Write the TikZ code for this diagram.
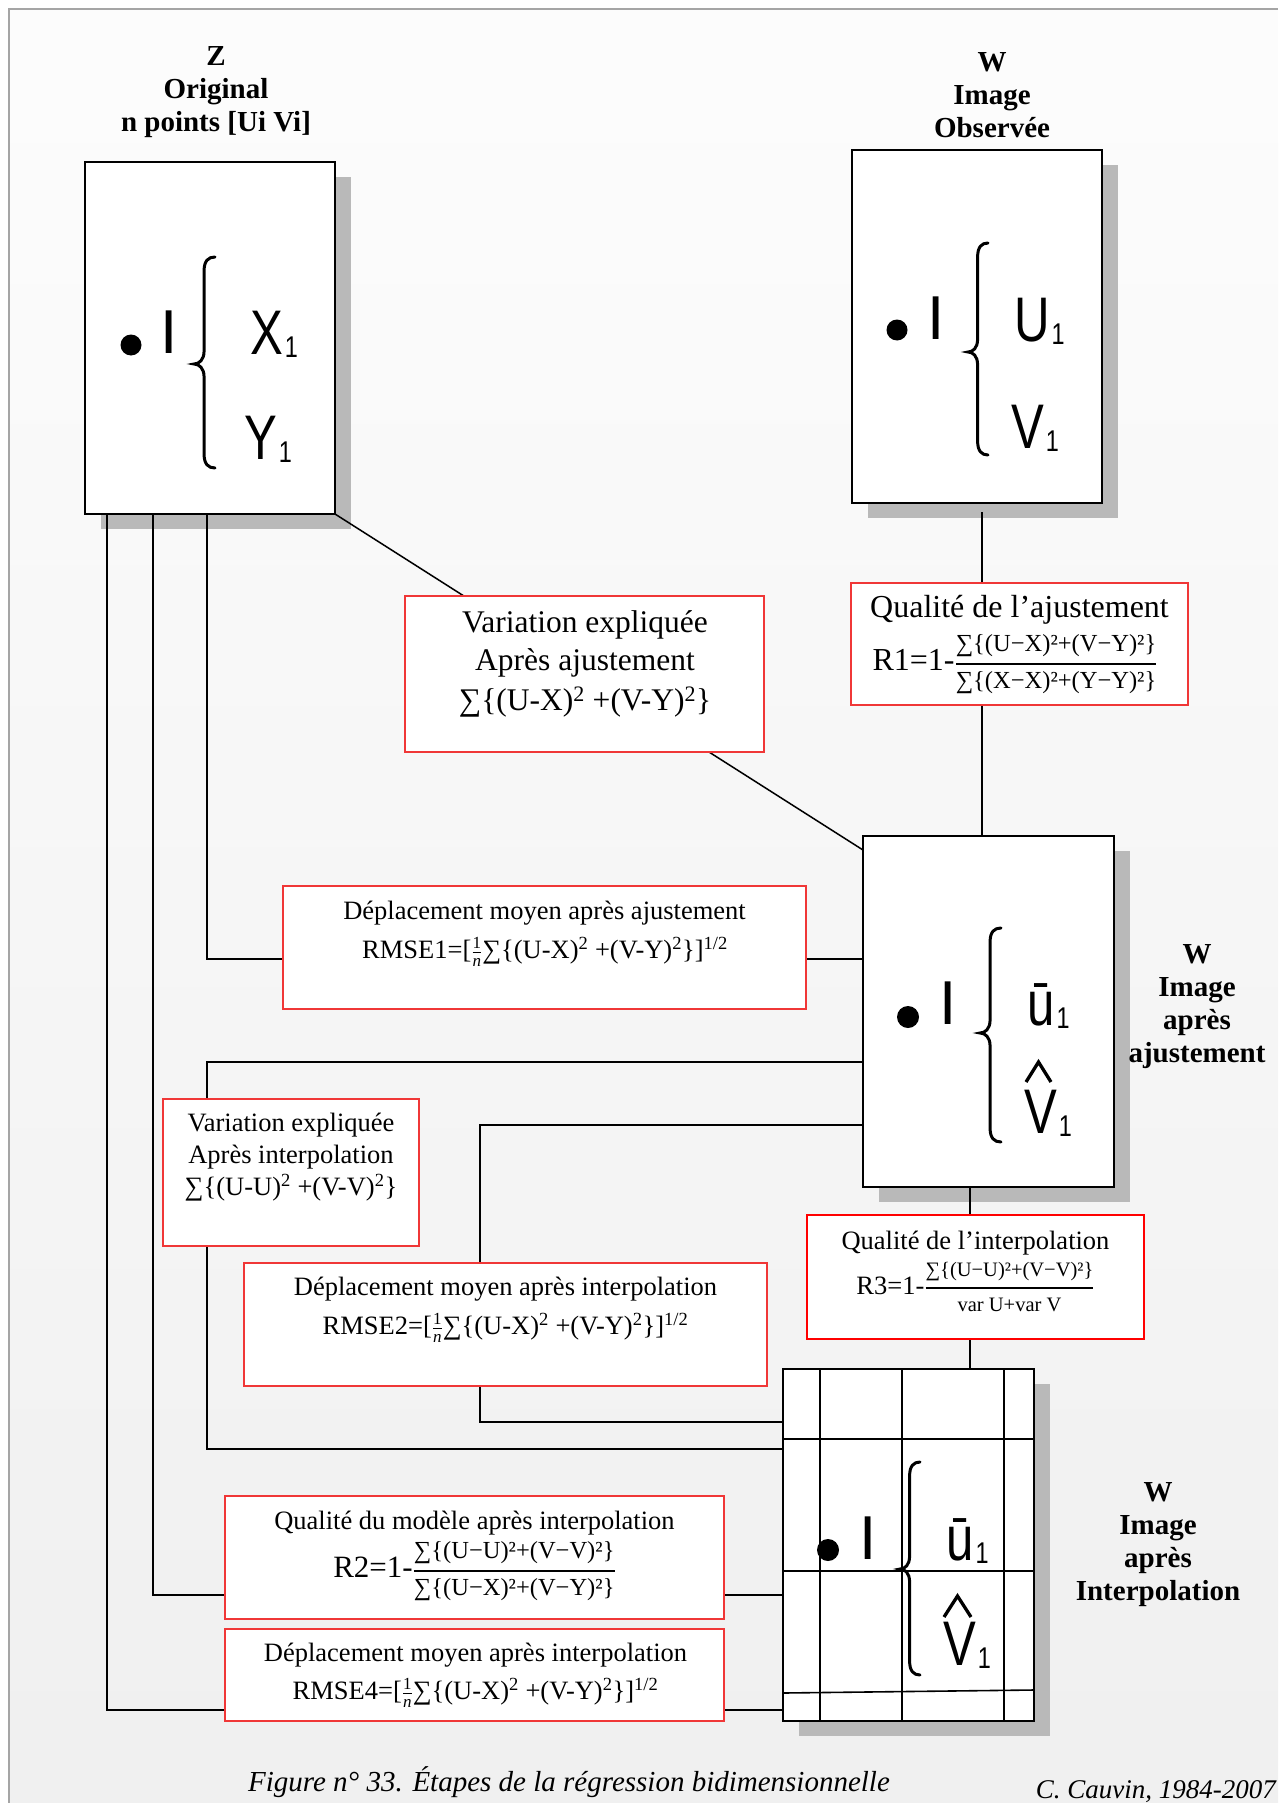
\documentclass[tikz,border=0pt]{standalone}
\usepackage{amsmath}
\usepackage{graphicx}
\usepackage{fontspec}
\setmainfont{Liberation Serif}
\newfontfamily\arialf[FakeStretch=0.78]{Liberation Sans}
\newfontfamily\arialn{Liberation Sans}
\pgfdeclarelayer{bgl}
\pgfdeclarelayer{shad}
\pgfdeclarelayer{conn}
\pgfsetlayers{bgl,shad,conn,main}
\definecolor{boxred}{RGB}{240,55,55}
\definecolor{shadowc}{RGB}{185,185,185}
\definecolor{framec}{RGB}{165,165,165}
\newcommand\fsz[1]{\fontsize{#1}{#1}\selectfont}
\newcommand\pw[1]{\textsuperscript{#1}}
\newcommand\onen{$\genfrac{}{}{1.2pt}{1}{\hbox{\fsz{17}1}}{\hbox{\fsz{17}\itshape n}}$}
\newcommand\fracx[3]{$\genfrac{}{}{2pt}{0}{\hbox{\fsz{#1}#2}}{\hbox{\fsz{#1}#3}}$}
\newcommand\subone{\hspace{2pt}\raisebox{-3pt}{\fsz{30}1}}
\newcommand\drawbrace[5]{%
  \pgfmathsetmacro\bxm{#1+0.48*(#2-#1)}%
  \draw[brc] (#2,#3) .. controls (\bxm+4,#3) and (\bxm,#3+4) .. (\bxm,#3+14)
    -- (\bxm,#4-13) .. controls (\bxm,#4-4) and (#1+5,#4) .. (#1,#4)
    .. controls (#1+5,#4) and (\bxm,#4+4) .. (\bxm,#4+13)
    -- (\bxm,#5-14) .. controls (\bxm,#5-4) and (\bxm+4,#5) .. (#2,#5);}
\begin{document}
\begin{tikzpicture}[x=1pt,y=-1pt,
  bbox/.style={draw=black, line width=1.7pt, fill=white, minimum width=250pt, minimum height=352pt, inner sep=0pt, outer sep=0pt, anchor=north west},
  rbox/.style={draw=boxred, line width=1.3pt, fill=white, inner sep=0pt, outer sep=0pt, anchor=north west},
  conn/.style={line width=1.5pt, black},
  brc/.style={line width=3pt, line cap=round},
  hatline/.style={line width=3.3pt, line join=miter},
  ttl/.style={align=center, font=\bfseries\fontsize{29}{33}\selectfont, inner sep=0pt},
  lett/.style={font=\arialf\fsz{63}, inner sep=0pt, anchor=base west},
  letI/.style={font=\arialn\fsz{62}, inner sep=0pt, anchor=base},
  tA/.style={font=\fsz{31.5}, inner sep=0pt},
  tB/.style={font=\fsz{32}, inner sep=0pt},
  tC/.style={font=\fsz{26.5}, inner sep=0pt}]
\useasboundingbox (0,0) rectangle (1278,1803);
\begin{pgfonlayer}{bgl}
  \fill[white] (0,0) rectangle (1278,1803);
  \shade[top color=black!1, bottom color=black!6] (9,9) rectangle (1278,1803);
  \draw[framec, line width=1.5pt] (9,1803) -- (9,9) -- (1278,9);
\end{pgfonlayer}

% titles
\node[ttl] (tZ) at (216,92) {Z\\Original\\n points [Ui Vi]};
\node[ttl] (tWo) at (992,95) {W\\Image\\Observée};
\node[ttl] (tWa) at (1197,1007) {W\\Image\\après\\ajustement};
\node[ttl] (tWi) at (1158,1545) {W\\Image\\après\\Interpolation};

% black boxes
\node[bbox] (Z) at (85,162) {};
\node[bbox, minimum height=353pt] (Wobs) at (852,150) {};
\node[bbox, minimum width=251pt, minimum height=351pt] (Waj) at (863,836) {};
\node[bbox, minimum width=251pt] (Wint) at (783,1369) {};

% shadows
\begin{pgfonlayer}{shad}
  \foreach \n in {Z,Wobs,Waj,Wint}
    \fill[shadowc] ([xshift=16pt,yshift=-15pt]\n.south west) rectangle ([xshift=16pt,yshift=-15pt]\n.north east);
\end{pgfonlayer}

% box Z content
\fill (131,345) circle[radius=10.5pt];
\node[letI] (zI) at (169,353) {I};
\drawbrace{194}{215}{257}{364}{468}
\node[lett] (zX) at (250,354) {X\subone};
\node[lett] (zY) at (244,459) {Y\subone};

% box W observee content
\fill (897,330) circle[radius=10.5pt];
\node[letI] (oI) at (936,339) {I};
\drawbrace{968}{988}{243}{352}{455}
\node[lett] (oU) at (1014,341) {U\subone};
\node[lett] (oV) at (1011,448) {V\subone};

% box W ajustement content
\fill (908,1017) circle[radius=11pt];
\node[letI] (aI) at (948.5,1024) {I};
\drawbrace{980}{1001}{928}{1033}{1142}
\node[lett] (aU) at (1027,1025) {ū\subone};
\node[lett] (aV) at (1024,1133) {V\subone};
\draw[hatline] (1026,1082) -- (1038.5,1062) -- (1051,1082);

% box W interpolation: grid and content
\draw[line width=1.6pt] (820,1369) -- (820,1721) (902,1369) -- (902,1721) (1004,1369) -- (1004,1721)
  (783,1439) -- (1034,1439) (783,1571) -- (1034,1571) (783,1693) -- (1034,1690);
\fill (828,1550) circle[radius=11pt];
\node[letI] (iI) at (868,1559) {I};
\drawbrace{900}{920}{1462}{1569}{1675}
\node[lett] (iU) at (946,1560) {ū\subone};
\node[lett] (iV) at (943,1665) {V\subone};
\draw[hatline] (944,1617) -- (957.5,1596) -- (971,1617);

% red boxes
\node[rbox, minimum width=359pt, minimum height=156pt] (ve1) at (405,596) {};
\node[rbox, minimum width=337pt, minimum height=122pt] (r1) at (851,583) {};
\node[rbox, minimum width=523pt, minimum height=123pt] (rm1) at (283,886) {};
\node[rbox, minimum width=256pt, minimum height=147pt] (ve2) at (163,1099) {};
\node[rbox, minimum width=523pt, minimum height=123pt] (rm2) at (244,1263) {};
\node[rbox, minimum width=337pt, minimum height=124pt, line width=2pt, draw=red] (r3) at (807,1215) {};
\node[rbox, minimum width=499pt, minimum height=123pt] (r2) at (225,1496) {};
\node[rbox, minimum width=499pt, minimum height=92pt] (rm4) at (225,1629) {};

% red box texts
\node[tA] (ve1a) at (585,625) {Variation expliquée};
\node[tA] (ve1b) at (585,663) {Après ajustement};
\node[tA] (ve1c) at (585,702) {∑\{(U-X)\pw{2} +(V-Y)\pw{2}\}};
\node[tB] (r1a) at (1019.5,610) {Qualité de l’ajustement};
\node[tB] (r1b) at (1015,664) {R1=1-\fracx{24.5}{∑\{(U−X)²+(V−Y)²\}}{∑\{(X−X)²+(Y−Y)²\}}};
\node[tC] (rm1a) at (544.5,913) {Déplacement moyen après ajustement};
\node[tC] (rm1b) at (545,952) {RMSE1=[\onen∑\{(U-X)\pw{2} +(V-Y)\pw{2}\}]\pw{1/2}};
\node[tC] (ve2a) at (291,1125) {Variation expliquée};
\node[tC] (ve2b) at (291,1157) {Après interpolation};
\node[tC] (ve2c) at (291,1188) {∑\{(U-U)\pw{2} +(V-V)\pw{2}\}};
\node[tC] (rm2a) at (505.5,1289) {Déplacement moyen après interpolation};
\node[tC] (rm2b) at (505.5,1328) {RMSE2=[\onen∑\{(U-X)\pw{2} +(V-Y)\pw{2}\}]\pw{1/2}};
\node[tC] (r3a) at (975.5,1243) {Qualité de l’interpolation};
\node[tC] (r3b) at (975.5,1287) {R3=1-\fracx{20.5}{∑\{(U−U)²+(V−V)²\}}{var U+var V}};
\node[tC] (r2a) at (474.5,1523) {Qualité du modèle après interpolation};
\node[font=\fsz{31}, inner sep=0pt] (r2b) at (474.5,1571) {R2=1-\fracx{24.5}{∑\{(U−U)²+(V−V)²\}}{∑\{(U−X)²+(V−Y)²\}}};
\node[tC] (rm4a) at (475.5,1655) {Déplacement moyen après interpolation};
\node[tC] (rm4b) at (475.5,1693) {RMSE4=[\onen∑\{(U-X)\pw{2} +(V-Y)\pw{2}\}]\pw{1/2}};

% caption
\node[font=\itshape\fsz{29}, inner sep=0pt] (cap) at (569,1782) {Figure n° 33. Étapes de la régression bidimensionnelle};
\node[font=\itshape\fsz{27}, inner sep=0pt, anchor=east] (auth) at (1276,1792) {C. Cauvin, 1984-2007};

% connectors
\coordinate (k1) at (207,1449);
\coordinate (k2) at (480,1422);
\coordinate (wo1) at ([xshift=5pt,yshift=-9pt]Wobs.south);
\coordinate (wa1) at ([xshift=-18.5pt]Waj.south);
\begin{pgfonlayer}{conn}
  \draw[conn] (Z.south east) -- ([yshift=-14pt]Waj.north west);
  \draw[conn] (wo1) -- (wo1 |- Waj.north);
  \draw[conn] ([xshift=122pt]Z.south west) |- ([yshift=-123pt]Waj.north west);
  \draw[conn] ([yshift=-226pt]Waj.north west) -| (k1) -- (k1 -| Wint.west);
  \draw[conn] ([yshift=-289pt]Waj.north west) -| (k2) -- (k2 -| Wint.west);
  \draw[conn] ([xshift=68pt]Z.south west) |- ([yshift=-226pt]Wint.north west);
  \draw[conn] ([xshift=22pt]Z.south west) |- ([yshift=-341pt]Wint.north west);
  \draw[conn] (wa1) -- (wa1 |- Wint.north);
\end{pgfonlayer}
\end{tikzpicture}
\end{document}
